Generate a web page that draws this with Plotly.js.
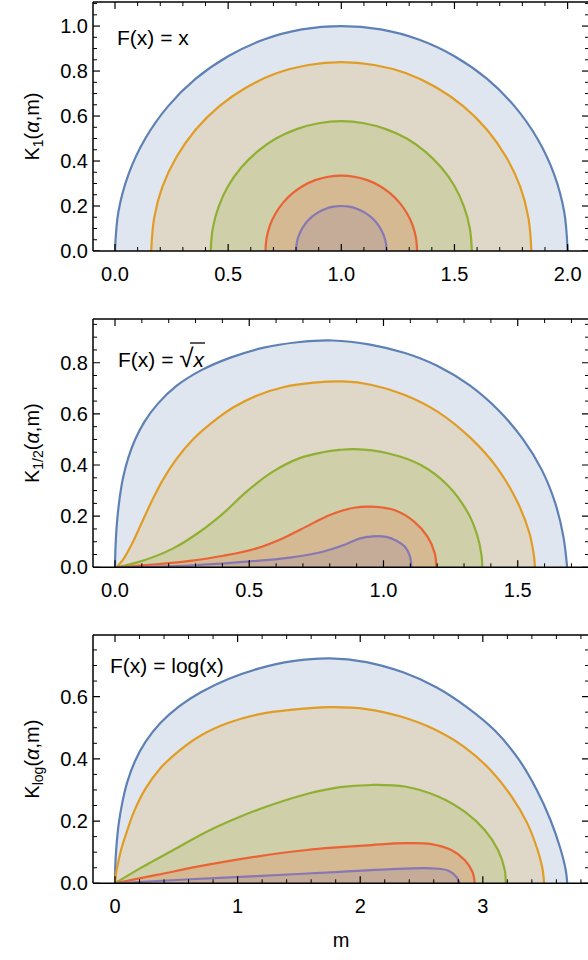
<!DOCTYPE html>
<html><head><meta charset="utf-8">
<script src="https://cdn.plot.ly/plotly-3.0.1.min.js"></script>
<style>html,body{margin:0;padding:0;overflow:hidden;background:#fff}</style>
</head><body><div id="chart"></div>
<script>
// ---------- Panel 1: F(x) = x ----------
const p1_m_a = [0.000,0.015,0.060,0.134,0.234,0.357,0.500,0.658,0.826,1.000,1.174,1.342,1.500,1.643,1.766,1.866,1.940,1.985,2.000];
const p1_k_a = [0,0.174,0.342,0.500,0.643,0.766,0.866,0.940,0.985,1.000,0.985,0.940,0.866,0.766,0.643,0.500,0.342,0.174,0];
const p1_m_b = [0.160,0.173,0.210,0.273,0.357,0.460,0.580,0.713,0.854,1.000,1.146,1.287,1.420,1.540,1.643,1.727,1.790,1.827,1.840];
const p1_k_b = [0,0.146,0.287,0.420,0.540,0.643,0.727,0.790,0.827,0.840,0.827,0.790,0.727,0.643,0.540,0.420,0.287,0.146,0];
const p1_m_c = [0.423,0.432,0.458,0.500,0.558,0.629,0.711,0.803,0.900,1.000,1.100,1.197,1.289,1.371,1.442,1.500,1.542,1.568,1.577];
const p1_k_c = [0,0.100,0.197,0.289,0.371,0.442,0.500,0.542,0.568,0.577,0.568,0.542,0.500,0.442,0.371,0.289,0.197,0.100,0];
const p1_m_d = [0.665,0.670,0.685,0.710,0.743,0.785,0.832,0.885,0.942,1.000,1.058,1.115,1.168,1.215,1.257,1.290,1.315,1.330,1.335];
const p1_k_d = [0,0.058,0.115,0.168,0.215,0.257,0.290,0.315,0.330,0.335,0.330,0.315,0.290,0.257,0.215,0.168,0.115,0.058,0];
const p1_m_e = [0.800,0.803,0.812,0.827,0.847,0.871,0.900,0.932,0.965,1.000,1.035,1.068,1.100,1.129,1.153,1.173,1.188,1.197,1.200];
const p1_k_e = [0,0.035,0.068,0.100,0.129,0.153,0.173,0.188,0.197,0.200,0.197,0.188,0.173,0.153,0.129,0.100,0.068,0.035,0];

// ---------- Panel 2: F(x) = sqrt(x) ----------
const p2_m_a = [0,0.002,0.007,0.016,0.030,0.050,0.075,0.110,0.160,0.230,0.320,0.430,0.550,0.680,0.810,0.950,1.080,1.200,1.320,1.430,1.520,1.590,1.640,1.670,1.684];
const p2_k_a = [0,0.080,0.170,0.260,0.350,0.430,0.500,0.570,0.640,0.710,0.770,0.820,0.858,0.880,0.887,0.871,0.838,0.788,0.712,0.612,0.500,0.380,0.250,0.120,0];
const p2_m_b = [0.006,0.030,0.060,0.100,0.140,0.180,0.230,0.290,0.360,0.440,0.530,0.630,0.740,0.850,0.953,1.077,1.201,1.325,1.424,1.498,1.542,1.560,1.564];
const p2_k_b = [0,0.030,0.085,0.175,0.265,0.345,0.425,0.500,0.565,0.625,0.672,0.705,0.722,0.727,0.714,0.675,0.609,0.505,0.388,0.257,0.139,0.048,0];
const p2_m_c = [0.006,0.093,0.217,0.316,0.403,0.490,0.588,0.688,0.774,0.836,0.891,1.015,1.139,1.238,1.312,1.349,1.365,1.368];
const p2_k_c = [0,0.022,0.074,0.139,0.211,0.296,0.374,0.427,0.450,0.459,0.462,0.446,0.400,0.322,0.218,0.126,0.048,0];
const p2_m_d = [0.006,0.155,0.279,0.403,0.527,0.626,0.712,0.774,0.836,0.891,0.953,1.040,1.114,1.164,1.191,1.197];
const p2_k_d = [0,0.012,0.025,0.045,0.074,0.114,0.159,0.192,0.218,0.233,0.237,0.224,0.179,0.120,0.055,0];
const p2_m_e = [0.006,0.279,0.465,0.651,0.774,0.860,0.910,0.960,1.010,1.050,1.080,1.098,1.104];
const p2_k_e = [0,0.007,0.020,0.038,0.061,0.090,0.112,0.121,0.119,0.103,0.080,0.045,0];

// ---------- Panel 3: F(x) = log(x) ----------
const p3_m_a = [0,0.003,0.012,0.030,0.060,0.100,0.160,0.250,0.370,0.520,0.700,0.920,1.170,1.450,1.750,2.050,2.350,2.620,2.880,3.100,3.290,3.440,3.550,3.630,3.675,3.689];
const p3_k_a = [0,0.060,0.120,0.190,0.260,0.325,0.390,0.455,0.515,0.568,0.614,0.656,0.690,0.714,0.723,0.711,0.678,0.630,0.563,0.490,0.400,0.300,0.205,0.115,0.045,0];
const p3_m_b = [0,0.008,0.025,0.055,0.100,0.160,0.250,0.370,0.520,0.700,0.920,1.170,1.450,1.750,2.050,2.330,2.600,2.850,3.060,3.230,3.360,3.440,3.485,3.500];
const p3_k_b = [0,0.030,0.065,0.115,0.170,0.235,0.305,0.370,0.425,0.475,0.515,0.543,0.558,0.566,0.560,0.536,0.496,0.438,0.365,0.282,0.195,0.115,0.050,0];
const p3_m_c = [0,0.204,0.476,0.748,1.020,1.291,1.564,1.835,2.091,2.363,2.635,2.852,3.015,3.124,3.179,3.187];
const p3_k_c = [0,0.048,0.107,0.166,0.214,0.254,0.287,0.309,0.316,0.311,0.279,0.230,0.171,0.107,0.043,0];
const p3_m_d = [0,0.340,0.748,1.156,1.564,1.835,2.091,2.363,2.580,2.743,2.852,2.915,2.934];
const p3_k_d = [0,0.027,0.059,0.086,0.107,0.116,0.123,0.129,0.126,0.107,0.075,0.037,0];
const p3_m_e = [0,0.612,1.156,1.835,2.227,2.580,2.716,2.784,2.811];
const p3_k_e = [0,0.013,0.023,0.037,0.045,0.048,0.041,0.021,0];

// ---------- ticks and labels ----------
const p1_xticks = [0,0.5,1,1.5,2];       const p1_xtext = ['0.0','0.5','1.0','1.5','2.0'];
const p1_yticks = [0,0.2,0.4,0.6,0.8,1]; const p1_ytext = ['0.0','0.2','0.4','0.6','0.8','1.0'];
const p2_xticks = [0,0.5,1,1.5];         const p2_xtext = ['0.0','0.5','1.0','1.5'];
const p2_yticks = [0,0.2,0.4,0.6,0.8];   const p2_ytext = ['0.0','0.2','0.4','0.6','0.8'];
const p3_xticks = [0,1,2,3];             const p3_xtext = ['0','1','2','3'];
const p3_yticks = [0,0.2,0.4,0.6];       const p3_ytext = ['0.0','0.2','0.4','0.6'];
const p1_xminor = [0.1,0.2,0.3,0.4,0.6,0.7,0.8,0.9,1.1,1.2,1.3,1.4,1.6,1.7,1.8,1.9];
const p2_xminor = [0.1,0.2,0.3,0.4,0.6,0.7,0.8,0.9,1.1,1.2,1.3,1.4,1.6,1.7];
const p3_xminor = [0.2,0.4,0.6,0.8,1.2,1.4,1.6,1.8,2.2,2.4,2.6,2.8,3.2,3.4,3.6,3.8];
const p1_yminor = [0.05,0.1,0.15,0.25,0.3,0.35,0.45,0.5,0.55,0.65,0.7,0.75,0.85,0.9,0.95,1.05,1.1];
const p2_yminor = [0.05,0.1,0.15,0.25,0.3,0.35,0.45,0.5,0.55,0.65,0.7,0.75,0.85,0.9,0.95];
const p3_yminor = [0.05,0.1,0.15,0.25,0.3,0.35,0.45,0.5,0.55,0.65,0.7,0.75];
const yTitles = ['K<sub>1</sub>(<i>α</i>,m)','K<sub>1/2</sub>(<i>α</i>,m)','K<sub>log</sub>(<i>α</i>,m)'];
const xTitle = 'm';
const panelLabels = ['F(x) = x','F(x) = <span style="font-size:26px">√</span><i>x</i>','F(x) = log(x)'];

const lineColors = ['#5E81B5','#E19C24','#8FB032','#EB6235','#8778B3'];
const fillColors = ['rgba(94,129,181,0.2)','rgba(225,156,36,0.2)','rgba(143,176,50,0.2)','rgba(235,98,53,0.2)','rgba(135,120,179,0.2)'];

const W = 590, H = 960;
const panels = [
  {xa:'x',  ya:'y',  ms:[p1_m_a,p1_m_b,p1_m_c,p1_m_d,p1_m_e], ks:[p1_k_a,p1_k_b,p1_k_c,p1_k_d,p1_k_e],
   xt:p1_xticks, yt:p1_yticks, xm:p1_xminor, ym:p1_yminor},
  {xa:'x2', ya:'y2', ms:[p2_m_a,p2_m_b,p2_m_c,p2_m_d,p2_m_e], ks:[p2_k_a,p2_k_b,p2_k_c,p2_k_d,p2_k_e],
   xt:p2_xticks, yt:p2_yticks, xm:p2_xminor, ym:p2_yminor},
  {xa:'x3', ya:'y3', ms:[p3_m_a,p3_m_b,p3_m_c,p3_m_d,p3_m_e], ks:[p3_k_a,p3_k_b,p3_k_c,p3_k_d,p3_k_e],
   xt:p3_xticks, yt:p3_yticks, xm:p3_xminor, ym:p3_yminor}
];
const data = [];
const shapes = [];
const BLK = '#000';
panels.forEach((p) => {
  p.ms.forEach((m, i) => {
    data.push({type:'scatter', mode:'lines', x:m, y:p.ks[i], xaxis:p.xa, yaxis:p.ya,
      fill:'toself', fillcolor:fillColors[i],
      line:{color:lineColors[i], width:2.2, shape:'spline', smoothing:1},
      hoverinfo:'skip', showlegend:false});
  });
  const xd = p.xa + ' domain', ydm = p.ya + ' domain';
  // frame (Mathematica-style box)
  [[0,0,1,0],[0,1,1,1],[0,0,0,1],[1,0,1,1]].forEach(f => {
    shapes.push({type:'line', xref:xd, yref:ydm, x0:f[0], y0:f[1], x1:f[2], y1:f[3], line:{color:BLK, width:1.5}});
  });
  // inward ticks on all four sides, taken from the tick arrays
  const xTick = (v, len, w) => {
    shapes.push({type:'line', xref:p.xa, yref:ydm, ysizemode:'pixel', yanchor:0, x0:v, x1:v, y0:0, y1:len, line:{color:BLK, width:w}});
    shapes.push({type:'line', xref:p.xa, yref:ydm, ysizemode:'pixel', yanchor:1, x0:v, x1:v, y0:0, y1:-len, line:{color:BLK, width:w}});
  };
  const yTick = (v, len, w) => {
    shapes.push({type:'line', xref:xd, yref:p.ya, xsizemode:'pixel', xanchor:0, y0:v, y1:v, x0:0, x1:len, line:{color:BLK, width:w}});
    shapes.push({type:'line', xref:xd, yref:p.ya, xsizemode:'pixel', xanchor:1, y0:v, y1:v, x0:0, x1:-len, line:{color:BLK, width:w}});
  };
  p.xt.forEach(v => xTick(v, 7, 1.2));
  p.xm.forEach(v => xTick(v, 4, 1));
  p.yt.forEach(v => yTick(v, 7, 1.2));
  p.ym.forEach(v => yTick(v, 4, 1));
});
// radical bar over x in "F(x) = √x"
shapes.push({type:'line', xref:'paper', yref:'paper', x0:190/W, x1:205/W, y0:1-343/H, y1:1-343/H, line:{color:BLK, width:1.3}});

const FAM = 'Liberation Sans, Arial, sans-serif';
function mkFont(s){ return {family:FAM, size:s, color:'#000'}; }
function common(tv, tt) {
  // axis tick marks are drawn by the shapes above; the axis keeps labels only
  return {tickmode:'array', tickvals:tv, ticktext:tt, ticks:'inside', ticklen:7, tickcolor:'rgba(0,0,0,0)',
    showline:false, showgrid:false, zeroline:false, fixedrange:true, tickfont:mkFont(20)};
}
function xAxis(range, tv, tt, anchor, title) {
  const a = Object.assign(common(tv, tt), {range:range, domain:[93/W, 589/W], anchor:anchor, ticklabelstandoff:9});
  if (title) a.title = {text:title, font:mkFont(20), standoff:16};
  return a;
}
function yAxis(range, tv, tt, anchor, t, b, title) {
  return Object.assign(common(tv, tt), {range:range, domain:[1 - b/H, 1 - t/H], anchor:anchor, ticklabelstandoff:4,
    title:{text:title, font:mkFont(20), standoff:15}});
}

const layout = {
  width:W, height:H, margin:{l:0, r:0, t:0, b:0},
  paper_bgcolor:'#fff', plot_bgcolor:'#fff', showlegend:false, font:mkFont(20),
  xaxis:  xAxis([-0.0972, 2.0945], p1_xticks, p1_xtext, 'y'),
  yaxis:  yAxis([0, 1.107], p1_yticks, p1_ytext, 'x', 2, 251, yTitles[0]),
  xaxis2: xAxis([-0.0819, 1.7654], p2_xticks, p2_xtext, 'y2'),
  yaxis2: yAxis([0, 0.971], p2_yticks, p2_ytext, 'x2', 319, 567.3, yTitles[1]),
  xaxis3: xAxis([-0.1794, 3.866], p3_xticks, p3_xtext, 'y3', xTitle),
  yaxis3: yAxis([0, 0.798], p3_yticks, p3_ytext, 'x3', 635, 883.3, yTitles[2]),
  annotations: [
    {xref:'paper', yref:'paper', x:115/W, y:1-38/H, xanchor:'left', yanchor:'middle', showarrow:false, text:panelLabels[0], font:mkFont(21)},
    {xref:'paper', yref:'paper', x:116/W, y:1-358/H, xanchor:'left', yanchor:'middle', showarrow:false, text:panelLabels[1], font:mkFont(21)},
    {xref:'paper', yref:'paper', x:108/W, y:1-665/H, xanchor:'left', yanchor:'middle', showarrow:false, text:panelLabels[2], font:mkFont(21)}
  ],
  shapes: shapes
};
Plotly.newPlot('chart', data, layout, {displayModeBar:false});
</script></body></html>
